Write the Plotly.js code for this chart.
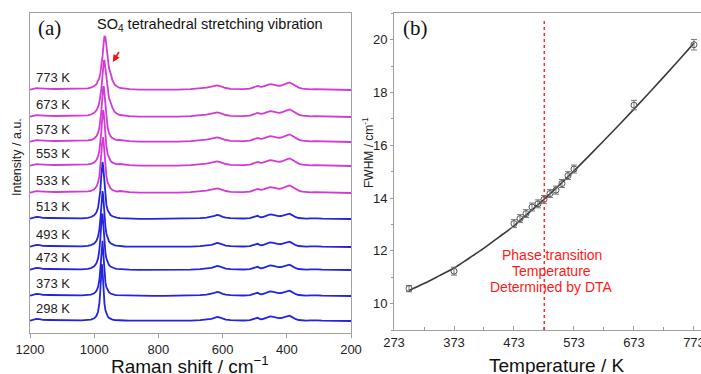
<!DOCTYPE html>
<html>
<head>
<meta charset="utf-8">
<script src="https://cdn.plot.ly/plotly-3.0.1.min.js"></script>
<style>html,body{margin:0;padding:0;background:#fff;}#chart{width:701px;height:374px;}</style>
</head>
<body>
<div id="chart"></div>
<script>
// ---------- Panel (a): Raman spectra ----------
const temps = [773, 673, 573, 553, 533, 513, 493, 473, 373, 298];
const tempLabels = ['773 K','673 K','573 K','553 K','533 K','513 K','493 K','473 K','373 K','298 K'];
const offsets = [243, 216, 191, 167, 140, 114, 86, 63, 37, 12];

const leftShift = [1200, 1190, 1180, 1170, 1160, 1140, 1120, 1100, 1090, 1080, 1060, 1040, 1020];
const peakShift = [1010, 1000, 993, 988, 984, 981, 978, 976, 974, 972, 970, 968, 965, 962, 958, 954, 949, 943, 936, 930];
const rightShift = [920, 905, 890, 860, 820, 780, 740, 700, 670, 650, 635, 625, 617, 610, 600, 590, 575, 555, 535, 515, 505, 497, 491, 486, 481, 475, 468, 460, 452, 446, 440, 433, 425, 418, 410, 403, 397, 392, 386, 380, 372, 363, 352, 340, 325, 315, 305, 290, 270, 250, 230, 200];

const leftBlue = [0.3, 1.2, 2.2, 1.8, 1.2, 1.0, 0.8, 0.9, 1.2, 0.9, 0.6, 0.7, 1.2];
const leftMagenta = [0.3, 1.0, 1.8, 1.6, 1.3, 1.2, 1.0, 1.0, 1.1, 1.0, 1.0, 1.2, 1.6];

const rightBlue = [0.8, 0.5, 0.3, 0.2, 0.1, 0.1, 0.2, 0.4, 0.8, 1.4, 2.2, 3.2, 4.0, 3.6, 2.2, 1.3, 0.8, 0.5, 0.5, 0.8, 1.5, 2.6, 3.2, 2.4, 1.7, 2.0, 3.0, 4.0, 4.5, 4.3, 3.8, 3.2, 2.9, 3.0, 3.8, 4.8, 5.6, 5.4, 4.4, 3.2, 1.8, 1.0, 0.6, 0.4, 0.6, 0.9, 0.7, 0.4, 0.2, 0.1, 0.1, 0.0];
const rightMagenta = [2.0, 1.3, 0.9, 0.4, 0.2, 0.2, 0.4, 0.8, 1.5, 2.4, 3.4, 4.2, 4.6, 4.2, 3.0, 2.0, 1.2, 0.8, 0.9, 1.4, 2.4, 3.6, 4.1, 3.6, 3.1, 3.4, 4.4, 5.4, 5.9, 5.7, 5.1, 4.5, 4.2, 4.5, 5.6, 6.9, 7.7, 7.6, 6.8, 5.6, 3.9, 2.4, 1.3, 0.8, 0.7, 0.8, 0.7, 0.5, 0.3, 0.2, 0.1, 0.0];

const peak773 = [2.4, 3.9, 5.9, 8.6, 12.0, 16.1, 22.1, 27.4, 34.1, 41.9, 49.3, 54.1, 52.6, 42.8, 29.6, 22.0, 16.7, 9.7, 5.4, 3.7];
const peak673 = [2.5, 4.2, 6.7, 10.0, 14.4, 19.7, 27.5, 34.5, 42.7, 50.8, 56.1, 56.3, 47.5, 35.9, 24.5, 18.9, 14.8, 9.0, 5.1, 3.5];
const peak573 = [2.0, 3.5, 5.8, 9.1, 14.0, 20.2, 29.9, 38.8, 48.3, 55.0, 55.0, 48.3, 34.1, 23.0, 14.0, 9.1, 5.8, 3.8, 2.5, 1.8];
const peak553 = [2.0, 3.6, 6.0, 9.7, 15.1, 22.2, 33.4, 43.1, 52.1, 56.0, 52.1, 43.1, 29.2, 19.5, 12.0, 7.9, 5.1, 3.3, 2.2, 1.6];
const peak533 = [2.0, 3.7, 6.4, 10.4, 16.8, 25.1, 38.1, 48.4, 55.9, 55.9, 48.4, 38.1, 25.1, 16.8, 10.4, 7.0, 4.6, 3.0, 2.0, 1.5];
const peak513 = [2.0, 3.8, 6.6, 11.1, 18.4, 28.1, 42.7, 52.6, 57.0, 52.6, 42.7, 32.5, 21.1, 14.1, 8.9, 6.1, 4.0, 2.7, 1.8, 1.4];
const peak493 = [1.9, 3.5, 6.2, 10.4, 17.3, 26.8, 41.3, 51.4, 56.0, 51.4, 41.3, 31.1, 20.0, 13.3, 8.4, 5.7, 3.8, 2.5, 1.7, 1.3];
const peak473 = [1.9, 3.6, 6.6, 11.4, 19.5, 30.8, 47.0, 55.7, 55.7, 47.0, 35.8, 26.4, 16.9, 11.4, 7.3, 5.0, 3.4, 2.3, 1.5, 1.2];
const peak373 = [1.4, 2.7, 5.0, 8.9, 15.9, 26.5, 44.3, 55.2, 55.2, 44.3, 31.7, 22.2, 13.6, 8.9, 5.6, 3.8, 2.5, 1.7, 1.2, 0.9];
const peak298 = [1.4, 2.7, 5.1, 9.3, 17.4, 30.2, 49.9, 57.0, 49.9, 36.3, 25.0, 17.4, 10.7, 7.1, 4.6, 3.1, 2.1, 1.4, 1.0, 0.8];

const peaks = [peak773, peak673, peak573, peak553, peak533, peak513, peak493, peak473, peak373, peak298];

// ---------- Panel (b): FWHM vs temperature ----------
const tempPts = [298, 373, 473, 483, 493, 503, 513, 523, 533, 543, 553, 563, 573, 673, 773];
const fwhmPts = [10.57, 11.23, 13.03, 13.22, 13.41, 13.66, 13.78, 13.95, 14.17, 14.30, 14.55, 14.85, 15.10, 17.52, 19.81];
const fwhmErr = [0.12, 0.15, 0.15, 0.15, 0.15, 0.15, 0.15, 0.15, 0.15, 0.15, 0.15, 0.15, 0.15, 0.18, 0.2];
const fitT = [298, 323, 348, 373, 398, 423, 448, 473, 498, 523, 548, 573, 598, 623, 648, 673, 698, 723, 748, 773];
const fitF = [10.5, 10.76, 11.05, 11.35, 11.72, 12.1, 12.52, 12.95, 13.45, 13.95, 14.48, 15.03, 15.6, 16.18, 16.77, 17.37, 17.98, 18.6, 19.23, 19.87];
const dtaT = 523.5;

const W = 701, H = 374;
const px = v => v / W;
const py = v => 1 - v / H;

const MAG = '#d23ad6', BLU = '#2424e0';
const FONT = 'Liberation Sans, Arial, sans-serif';
const traces = [];
const xs = leftShift.concat(peakShift, rightShift);
temps.forEach((t, i) => {
  const isMag = t >= 533;
  const vals = (isMag ? leftMagenta : leftBlue).concat(peaks[i], isMag ? rightMagenta : rightBlue);
  traces.push({
    x: xs, y: vals.map(v => v + offsets[i]),
    type: 'scatter', mode: 'lines', xaxis: 'x', yaxis: 'y',
    line: {color: isMag ? MAG : BLU, width: 1.8, shape: 'linear'},
    hoverinfo: 'skip'
  });
});

traces.push({
  x: fitT, y: fitF, type: 'scatter', mode: 'lines', xaxis: 'x2', yaxis: 'y2',
  line: {color: '#3a3a3a', width: 1.6, shape: 'spline'}
});
traces.push({
  x: tempPts, y: fwhmPts, type: 'scatter', mode: 'markers', xaxis: 'x2', yaxis: 'y2',
  marker: {symbol: 'circle-open', size: 6, color: '#555', line: {width: 1, color: '#555'}},
  error_y: {type: 'data', array: fwhmErr, visible: true, color: '#777', thickness: 1, width: 3}
});

const annotations = [];
temps.forEach((t, i) => {
  annotations.push({xref: 'x', yref: 'y', x: 1187, y: offsets[i] + 13, xanchor: 'left', yanchor: 'middle',
    text: tempLabels[i], showarrow: false, font: {family: FONT, size: 13, color: '#222'}});
});
annotations.push(
  {xref: 'paper', yref: 'paper', x: px(49), y: py(28), text: '(a)', showarrow: false, xanchor: 'center', yanchor: 'middle',
   font: {family: 'Liberation Serif, Times New Roman, serif', size: 21, color: '#111'}},
  {xref: 'paper', yref: 'paper', x: px(415), y: py(28), text: '(b)', showarrow: false, xanchor: 'center', yanchor: 'middle',
   font: {family: 'Liberation Serif, Times New Roman, serif', size: 21, color: '#111'}},
  {xref: 'paper', yref: 'paper', x: px(210), y: py(25), text: 'SO<sub>4</sub> tetrahedral stretching vibration', showarrow: false,
   xanchor: 'center', yanchor: 'middle', font: {family: FONT, size: 14.5, color: '#111'}},
  {xref: 'x', yref: 'y', x: 942, y: 271, ax: 8, ay: -13, text: ' ', showarrow: true, arrowhead: 2, arrowsize: 0.9,
   arrowwidth: 1.6, arrowcolor: '#ee1111', standoff: 0, startstandoff: 0, font: {size: 2}},
  {xref: 'paper', yref: 'paper', x: px(190), y: py(365), text: 'Raman shift / cm<sup>\u22121</sup>', showarrow: false,
   xanchor: 'center', yanchor: 'middle', font: {family: FONT, size: 19, color: '#111'}},
  {xref: 'paper', yref: 'paper', x: px(556), y: py(365), text: 'Temperature / K', showarrow: false,
   xanchor: 'center', yanchor: 'middle', font: {family: FONT, size: 19, color: '#111'}},
  {xref: 'paper', yref: 'paper', x: px(17), y: py(157), text: 'Intensity / a.u.', showarrow: false, textangle: -90,
   xanchor: 'center', yanchor: 'middle', font: {family: FONT, size: 12.5, color: '#222'}},
  {xref: 'paper', yref: 'paper', x: px(368), y: py(153), text: 'FWHM / cm<sup>-1</sup>', showarrow: false, textangle: -90,
   xanchor: 'center', yanchor: 'middle', font: {family: FONT, size: 12, color: '#222'}},
  {xref: 'x2', yref: 'paper', x: 536, y: py(255), text: 'Phase transition', showarrow: false, xanchor: 'center', yanchor: 'middle',
   font: {family: FONT, size: 14, color: '#ff1a1a'}},
  {xref: 'x2', yref: 'paper', x: 536, y: py(271), text: 'Temperature', showarrow: false, xanchor: 'center', yanchor: 'middle',
   font: {family: FONT, size: 14, color: '#ff1a1a'}},
  {xref: 'x2', yref: 'paper', x: 536, y: py(287), text: 'Determined by DTA', showarrow: false, xanchor: 'center', yanchor: 'middle',
   font: {family: FONT, size: 14, color: '#ff1a1a'}}
);

const axBase = {showline: true, linecolor: '#a0a0a0', linewidth: 1, mirror: true, showgrid: false, zeroline: false,
  tickcolor: '#999', tickfont: {family: FONT, size: 13, color: '#222'}};

const layout = {
  width: W, height: H, margin: {l: 0, r: 0, t: 0, b: 0}, paper_bgcolor: '#fff', plot_bgcolor: '#fff',
  showlegend: false,
  xaxis: Object.assign({}, axBase, {domain: [px(30), px(351)], range: [1200, 200], autorange: false,
    tickmode: 'array', tickvals: [1200, 1000, 800, 600, 400, 200], ticks: 'outside', ticklen: 4, anchor: 'y'}),
  yaxis: Object.assign({}, axBase, {domain: [1 - 333 / H, 1 - 13 / H], range: [0, 320], showticklabels: false,
    ticks: '', anchor: 'x'}),
  xaxis2: Object.assign({}, axBase, {domain: [px(394), 1], range: [273, 784.7], autorange: false,
    tickmode: 'linear', tick0: 273, dtick: 100, ticks: 'inside', ticklen: 4, anchor: 'y2', ticklabeloverflow: 'allow',
    minor: {tick0: 273, dtick: 50, ticks: 'inside', ticklen: 3, tickcolor: '#999'}}),
  yaxis2: Object.assign({}, axBase, {domain: [1 - 330 / H, 1 - 13.3 / H], range: [9, 21], autorange: false,
    tickmode: 'linear', tick0: 10, dtick: 2, ticks: 'outside', ticklen: 3, anchor: 'x2',
    minor: {tick0: 9, dtick: 1, ticks: 'outside', ticklen: 2, tickcolor: '#999'}}),
  shapes: [{type: 'line', xref: 'x2', yref: 'y2', x0: dtaT, x1: dtaT, y0: 9, y1: 20.77,
    line: {color: '#ff2a2a', width: 1.5, dash: 'dot'}}],
  annotations: annotations
};

Plotly.newPlot('chart', traces, layout, {displayModeBar: false, staticPlot: true});
</script>
</body>
</html>
